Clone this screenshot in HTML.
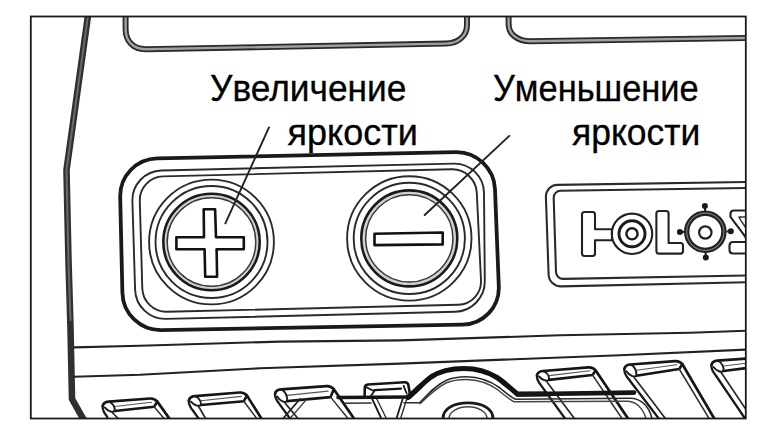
<!DOCTYPE html>
<html><head><meta charset="utf-8"><style>
html,body{margin:0;padding:0;background:#fff;}
body{width:774px;height:434px;position:relative;overflow:hidden;}
svg{position:absolute;left:0;top:0;}
.l{display:inline-block;transform:scaleY(1);transform-origin:0 29px;}
.l2{transform:scaleY(1);}
.t{position:absolute;font-family:"Liberation Sans",sans-serif;font-size:36px;color:#000;white-space:nowrap;line-height:1;transform-origin:0 29px;-webkit-text-stroke:0.3px #000;}
</style></head><body>
<svg width="774" height="434" viewBox="0 0 774 434">
<defs><clipPath id="cp"><rect x="30.8" y="16.5" width="715" height="402"/></clipPath></defs>
<g clip-path="url(#cp)">
<path d="M125.6,15 L125.6,29 C125.6,41 133,49.4 146,49.2 L446,43.6 C458,43.4 467,36 467,25 L467,15" fill="none" stroke="#2a2a2a" stroke-width="6.0" stroke-linejoin="round" stroke-linecap="round" />
<path d="M125.6,15 L125.6,29 C125.6,41 133,49.4 146,49.2 L446,43.6 C458,43.4 467,36 467,25 L467,15" fill="none" stroke="#a0a0a0" stroke-width="2.4" stroke-linejoin="round" stroke-linecap="round" />
<path d="M508.6,15 L508.6,24 C508.6,34 517,41.4 531,41.3 L748,37.9" fill="none" stroke="#2a2a2a" stroke-width="6.0" stroke-linejoin="round" stroke-linecap="round" />
<path d="M508.6,15 L508.6,24 C508.6,34 517,41.4 531,41.3 L748,37.9" fill="none" stroke="#a0a0a0" stroke-width="2.4" stroke-linejoin="round" stroke-linecap="round" />
<path d="M88.5,12 L66.5,170 L67,194 L68.5,261 L70.5,328 L72,399 L85,422" fill="none" stroke="#303030" stroke-width="6.6" stroke-linejoin="round" stroke-linecap="round" />
<path d="M88.5,12 L66.5,170 L67,194 L68.5,261 L70.5,320" fill="none" stroke="#6a6a6a" stroke-width="2.0" stroke-linejoin="round" stroke-linecap="round" />
<path d="M120.2,197.0 L120.2,197.0 C119.7,176.1 136.3,158.7 157.3,158.3 L455.5,152.2 C476.5,151.7 494.2,168.4 495.0,189.4 L498.8,286.1 C499.7,307.1 483.3,324.4 462.4,324.7 L161.3,330.1 C140.3,330.4 122.9,313.7 122.4,292.7 Z" fill="none" stroke="#1a1a1a" stroke-width="3.8" stroke-linejoin="round" stroke-linecap="round" />
<path d="M132.4,201.2 L132.4,201.2 C131.9,184.6 145.0,170.9 161.5,170.5 L453.7,163.6 C470.2,163.2 483.8,176.4 484.0,192.9 L484.8,281.1 C485.0,297.6 471.7,311.4 455.1,311.8 L166.0,318.9 C149.4,319.3 135.6,306.2 135.1,289.6 Z" fill="none" stroke="#2a2a2a" stroke-width="1.9" stroke-linejoin="round" stroke-linecap="round" />
<path d="M139.8,201.0 L139.8,201.0 C139.4,187.7 149.9,176.7 163.1,176.4 L451.7,169.3 C464.9,169.0 476.2,179.5 476.8,192.7 L481.0,280.3 C481.6,293.5 471.4,304.5 458.2,304.8 L167.0,311.8 C153.8,312.1 142.7,301.6 142.3,288.4 Z" fill="none" stroke="#2a2a2a" stroke-width="1.9" stroke-linejoin="round" stroke-linecap="round" />
<circle cx="211.5" cy="242" r="62.4" fill="none" stroke="#2a2a2a" stroke-width="1.9"/>
<circle cx="211.5" cy="242" r="56" fill="none" stroke="#2a2a2a" stroke-width="1.9"/>
<circle cx="211.5" cy="242" r="46.25" fill="none" stroke="#d0d0d0" stroke-width="3.9000000000000057"/>
<circle cx="211.5" cy="242" r="48.2" fill="none" stroke="#1a1a1a" stroke-width="2.6"/>
<circle cx="211.5" cy="242" r="44.3" fill="none" stroke="#3a3a3a" stroke-width="1.5"/>
<circle cx="409.3" cy="238.4" r="62.2" fill="none" stroke="#2a2a2a" stroke-width="1.9"/>
<circle cx="409.3" cy="238.4" r="55.6" fill="none" stroke="#2a2a2a" stroke-width="1.9"/>
<circle cx="409.3" cy="238.4" r="45.8" fill="none" stroke="#d0d0d0" stroke-width="4.399999999999999"/>
<circle cx="409.3" cy="238.4" r="48" fill="none" stroke="#1a1a1a" stroke-width="2.6"/>
<circle cx="409.3" cy="238.4" r="43.6" fill="none" stroke="#3a3a3a" stroke-width="1.5"/>
<path d="M203.7,209.3 L215.1,209.3 L216,237.3 L243.8,237.3 L243.8,249.3 L216.6,249.3 L217.1,276.8 L205.2,276.8 L204.6,249.3 L176.4,249.3 L176.4,237.3 L204,237.3 Z" fill="none" stroke="#111" stroke-width="2.6" stroke-linejoin="round" stroke-linecap="round" />
<path d="M374.5,233.8 L442.7,232.5 L442.7,244.4 L374.5,245.1 Z" fill="none" stroke="#111" stroke-width="2.6" stroke-linejoin="round" stroke-linecap="round" />
<path d="M269,127.4 L225.4,223.3" fill="none" stroke="#222" stroke-width="1.9" stroke-linejoin="round" stroke-linecap="round" />
<path d="M509.3,135.9 L424.7,215" fill="none" stroke="#222" stroke-width="1.9" stroke-linejoin="round" stroke-linecap="round" />
<path d="M545.9,197.1 L545.9,197.1 C545.7,190.5 550.8,185.0 557.5,184.9 L748.0,182.0 C754.6,181.9 760.0,187.1 760.0,193.8 L760.0,270.0 C760.0,276.6 754.6,282.1 748.0,282.2 L561.1,286.4 C554.4,286.5 548.9,281.3 548.6,274.7 Z" fill="none" stroke="#2a2a2a" stroke-width="2.1" stroke-linejoin="round" stroke-linecap="round" />
<path d="M553.7,197.9 L553.7,197.9 C553.6,194.0 556.7,190.8 560.5,190.8 L763.0,187.7 C766.9,187.7 770.0,190.8 770.0,194.6 L770.0,268.0 C770.0,271.9 766.9,275.1 763.0,275.2 L563.2,278.9 C559.4,279.0 556.1,275.9 556.0,272.1 Z" fill="none" stroke="#2a2a2a" stroke-width="2.1" stroke-linejoin="round" stroke-linecap="round" />
<path d="M584.5,212 L592.5,212 Q595,212 595,214.5 L595,229.2 L612,229.2 L612,240.2 L595,240.2 L595,253.5 Q595,256 592.5,256 L584.5,256 Q582,256 582,253.5 L582,214.5 Q582,212 584.5,212 Z" fill="none" stroke="#222" stroke-width="2.1" stroke-linejoin="round" stroke-linecap="round" />
<circle cx="632" cy="233.8" r="20.2" fill="none" stroke="#222" stroke-width="2.1"/>
<circle cx="632" cy="233.8" r="13" fill="none" stroke="#1a1a1a" stroke-width="2.9"/>
<circle cx="632" cy="233.8" r="5.6" fill="none" stroke="#1a1a1a" stroke-width="2.4"/>
<path d="M659,211 L666,211 Q668.6,211 668.6,213.5 L668.6,243 L680.5,243 Q683,243 683,245.5 L683,251 Q683,253.6 680.5,253.6 L659,253.6 Q656.4,253.6 656.4,251 L656.4,213.5 Q656.4,211 659,211 Z" fill="none" stroke="#222" stroke-width="2.1" stroke-linejoin="round" stroke-linecap="round" />
<circle cx="705.3" cy="231.8" r="18.6" fill="none" stroke="#222" stroke-width="5.4"/>
<circle cx="705.3" cy="231.8" r="18.6" fill="none" stroke="#777" stroke-width="1.2"/>
<circle cx="705.3" cy="232.5" r="6.2" fill="none" stroke="#222" stroke-width="2.2"/>
<circle cx="704.9" cy="206" r="3" fill="#1a1a1a"/>
<line x1="704.9" y1="206" x2="705.1" y2="211" stroke="#1a1a1a" stroke-width="2"/>
<circle cx="679.9" cy="232" r="3" fill="#1a1a1a"/>
<line x1="679.9" y1="232" x2="684" y2="232" stroke="#1a1a1a" stroke-width="2"/>
<circle cx="730.8" cy="231.3" r="3" fill="#1a1a1a"/>
<line x1="730.8" y1="231.3" x2="726.5" y2="231.5" stroke="#1a1a1a" stroke-width="2"/>
<circle cx="705.8" cy="257.5" r="3" fill="#1a1a1a"/>
<line x1="705.8" y1="257.5" x2="705.6" y2="252.5" stroke="#1a1a1a" stroke-width="2"/>
<path d="M746,210.5 L734,210.5 Q730.5,210.5 730.5,214 L730.5,217 C734,222 741,230 746,238" fill="none" stroke="#222" stroke-width="2.1" stroke-linejoin="round" stroke-linecap="round" />
<path d="M746,217 L739,217 C741,221 744,225 746,228" fill="none" stroke="#333" stroke-width="1.6" stroke-linejoin="round" stroke-linecap="round" />
<path d="M746,242 L733,242 Q729.5,242 729.5,245.5 L729.5,250 Q729.5,253.5 733,253.5 L746,253.5" fill="none" stroke="#222" stroke-width="2.1" stroke-linejoin="round" stroke-linecap="round" />
<path d="M74,347.4 L140,345.8 L280,341.6 L400,340.4 L560,335.3 L690,332.7 L746,330.75" fill="none" stroke="#222" stroke-width="2.1" stroke-linejoin="round" stroke-linecap="round" />
<path d="M74,376.8 L140,374.8 L260,368.3 L400,363.6 L620,355.2 L746,349.6" fill="none" stroke="#222" stroke-width="2.1" stroke-linejoin="round" stroke-linecap="round" />
<path d="M102.7,406.0 C103.2,403.0 105.7,402.0 108.7,401.7 L150.1,398.5 C153.1,398.3 155.6,399.5 157.3,401.6 L169.4,418.5" fill="none" stroke="#151515" stroke-width="2.7" stroke-linejoin="round" stroke-linecap="round" />
<path d="M102.7,406.0 C102.2,410.0 104.2,413.0 106.7,416.0 L107.8,418.5" fill="none" stroke="#1a1a1a" stroke-width="2.3" stroke-linejoin="round" stroke-linecap="round" />
<path d="M112.7,413.0 L118.3,418.5" fill="none" stroke="#2a2a2a" stroke-width="1.7" stroke-linejoin="round" stroke-linecap="round" />
<path d="M114.7,411.0 L154.1,406.7 L157.3,401.6" fill="none" stroke="#151515" stroke-width="2.6" stroke-linejoin="round" stroke-linecap="round" />
<path d="M114.7,406.5 L151.6,402.2" fill="none" stroke="#555" stroke-width="1.1" stroke-linejoin="round" stroke-linecap="round" />
<path d="M108.7,401.7 C112.7,403.0 115.2,406.9 114.7,411.0 C112.7,413.0 107.7,411.0 104.7,407.4" fill="none" stroke="#1a1a1a" stroke-width="1.9" stroke-linejoin="round" stroke-linecap="round" />
<path d="M154.1,406.7 L164.0,418.5" fill="none" stroke="#333" stroke-width="1.5" stroke-linejoin="round" stroke-linecap="round" />
<path d="M188.9,400.5 C189.4,397.5 191.9,396.5 194.9,396.2 L239.8,392.5 C242.8,392.3 245.3,393.5 247.0,395.6 L261.4,418.5" fill="none" stroke="#151515" stroke-width="2.7" stroke-linejoin="round" stroke-linecap="round" />
<path d="M188.9,400.5 C188.4,404.5 190.4,407.5 192.9,410.5 L198.6,418.5" fill="none" stroke="#1a1a1a" stroke-width="2.3" stroke-linejoin="round" stroke-linecap="round" />
<path d="M198.9,407.0 L205.6,418.5" fill="none" stroke="#2a2a2a" stroke-width="1.7" stroke-linejoin="round" stroke-linecap="round" />
<path d="M200.9,405.0 L243.8,401.2 L247.0,395.6" fill="none" stroke="#151515" stroke-width="2.6" stroke-linejoin="round" stroke-linecap="round" />
<path d="M200.9,400.8 L241.3,396.4" fill="none" stroke="#555" stroke-width="1.1" stroke-linejoin="round" stroke-linecap="round" />
<path d="M194.9,396.2 C198.9,397.5 201.4,401.2 200.9,405.0 C198.9,407.0 193.9,405.0 190.9,401.6" fill="none" stroke="#1a1a1a" stroke-width="1.9" stroke-linejoin="round" stroke-linecap="round" />
<path d="M243.8,401.2 L256.7,418.5" fill="none" stroke="#333" stroke-width="1.5" stroke-linejoin="round" stroke-linecap="round" />
<path d="M275.1,393.6 C275.6,390.6 278.1,389.6 281.1,389.3 L326.6,386.1 C329.6,385.9 332.1,387.1 333.8,389.2 L354.0,418.5" fill="none" stroke="#151515" stroke-width="2.7" stroke-linejoin="round" stroke-linecap="round" />
<path d="M275.1,393.6 C274.6,397.6 276.6,400.6 279.1,403.6 L290.0,418.5" fill="none" stroke="#1a1a1a" stroke-width="2.3" stroke-linejoin="round" stroke-linecap="round" />
<path d="M285.1,403.1 L298.0,418.5" fill="none" stroke="#2a2a2a" stroke-width="1.7" stroke-linejoin="round" stroke-linecap="round" />
<path d="M287.1,401.1 L330.6,397.1 L333.8,389.2" fill="none" stroke="#151515" stroke-width="2.6" stroke-linejoin="round" stroke-linecap="round" />
<path d="M287.1,395.4 L328.1,391.1" fill="none" stroke="#555" stroke-width="1.1" stroke-linejoin="round" stroke-linecap="round" />
<path d="M281.1,389.3 C285.1,390.6 287.6,395.9 287.1,401.1 C285.1,403.1 280.1,401.1 277.1,396.5" fill="none" stroke="#1a1a1a" stroke-width="1.9" stroke-linejoin="round" stroke-linecap="round" />
<path d="M330.6,397.1 L348.0,418.5" fill="none" stroke="#333" stroke-width="1.5" stroke-linejoin="round" stroke-linecap="round" />
<path d="M537.0,375.3 C537.5,372.3 540.0,371.3 543.0,371.0 L588.5,367.4 C591.5,367.2 594.0,368.4 595.7,370.5 L628.0,418.5" fill="none" stroke="#151515" stroke-width="2.7" stroke-linejoin="round" stroke-linecap="round" />
<path d="M537.0,375.3 C536.5,379.3 538.5,382.3 541.0,385.3 L565.0,418.5" fill="none" stroke="#1a1a1a" stroke-width="2.3" stroke-linejoin="round" stroke-linecap="round" />
<path d="M547.0,381.9 L574.4,418.5" fill="none" stroke="#2a2a2a" stroke-width="1.7" stroke-linejoin="round" stroke-linecap="round" />
<path d="M549.0,379.9 L592.5,375.0 L595.7,370.5" fill="none" stroke="#151515" stroke-width="2.6" stroke-linejoin="round" stroke-linecap="round" />
<path d="M549.0,375.6 L590.0,370.8" fill="none" stroke="#555" stroke-width="1.1" stroke-linejoin="round" stroke-linecap="round" />
<path d="M543.0,371.0 C547.0,372.3 549.5,376.0 549.0,379.9 C547.0,381.9 542.0,379.9 539.0,376.5" fill="none" stroke="#1a1a1a" stroke-width="1.9" stroke-linejoin="round" stroke-linecap="round" />
<path d="M592.5,375.0 L622.0,418.5" fill="none" stroke="#333" stroke-width="1.5" stroke-linejoin="round" stroke-linecap="round" />
<path d="M624.4,368.8 C624.9,365.8 627.4,364.8 630.4,364.5 L675.2,361.2 C678.2,361.0 680.7,362.2 682.4,364.3 L714.2,418.5" fill="none" stroke="#151515" stroke-width="2.7" stroke-linejoin="round" stroke-linecap="round" />
<path d="M624.4,368.8 C623.9,372.8 625.9,375.8 628.4,378.8 L658.7,418.5" fill="none" stroke="#1a1a1a" stroke-width="2.3" stroke-linejoin="round" stroke-linecap="round" />
<path d="M634.4,377.7 L665.4,418.5" fill="none" stroke="#2a2a2a" stroke-width="1.7" stroke-linejoin="round" stroke-linecap="round" />
<path d="M636.4,375.7 L679.2,369.0 L682.4,364.3" fill="none" stroke="#151515" stroke-width="2.6" stroke-linejoin="round" stroke-linecap="round" />
<path d="M636.4,370.2 L676.7,364.7" fill="none" stroke="#555" stroke-width="1.1" stroke-linejoin="round" stroke-linecap="round" />
<path d="M630.4,364.5 C634.4,365.8 636.9,370.8 636.4,375.7 C634.4,377.7 629.4,375.7 626.4,371.3" fill="none" stroke="#1a1a1a" stroke-width="1.9" stroke-linejoin="round" stroke-linecap="round" />
<path d="M679.2,369.0 L709.1,418.5" fill="none" stroke="#333" stroke-width="1.5" stroke-linejoin="round" stroke-linecap="round" />
<path d="M711.5,365.0 C712.0,362.0 714.5,361.0 717.5,360.7 L767.0,357.0 C770.0,356.8 772.5,358.0 774.2,360.1 L800.0,418.5" fill="none" stroke="#151515" stroke-width="2.7" stroke-linejoin="round" stroke-linecap="round" />
<path d="M711.5,365.0 C711.0,369.0 713.0,372.0 715.5,375.0 L745.0,418.5" fill="none" stroke="#1a1a1a" stroke-width="2.3" stroke-linejoin="round" stroke-linecap="round" />
<path d="M721.5,373.0 L752.0,418.5" fill="none" stroke="#2a2a2a" stroke-width="1.7" stroke-linejoin="round" stroke-linecap="round" />
<path d="M723.5,371.0 L771.0,365.0 L774.2,360.1" fill="none" stroke="#151515" stroke-width="2.6" stroke-linejoin="round" stroke-linecap="round" />
<path d="M723.5,366.0 L768.5,360.6" fill="none" stroke="#555" stroke-width="1.1" stroke-linejoin="round" stroke-linecap="round" />
<path d="M717.5,360.7 C721.5,362.0 724.0,366.5 723.5,371.0 C721.5,373.0 716.5,371.0 713.5,367.0" fill="none" stroke="#1a1a1a" stroke-width="1.9" stroke-linejoin="round" stroke-linecap="round" />
<path d="M771.0,365.0 L795.0,418.5" fill="none" stroke="#333" stroke-width="1.5" stroke-linejoin="round" stroke-linecap="round" />
<path d="M364.6,396 L364.8,387.5 Q365,384.8 368,384.5 L404.5,382.2 Q407.8,382 408.4,385 L410.2,396" fill="none" stroke="#151515" stroke-width="2.6" stroke-linejoin="round" stroke-linecap="round" />
<path d="M366.1,387.1 L374.3,391.2 L371.2,395.5" fill="none" stroke="#1a1a1a" stroke-width="1.8" stroke-linejoin="round" stroke-linecap="round" />
<path d="M403.6,385.8 L406.7,393.5" fill="none" stroke="#1a1a1a" stroke-width="1.8" stroke-linejoin="round" stroke-linecap="round" />
<path d="M374.3,390.2 L401,388.6" fill="none" stroke="#151515" stroke-width="2.2" stroke-linejoin="round" stroke-linecap="round" />
<path d="M372.2,399 L381.3,418.5" fill="none" stroke="#1a1a1a" stroke-width="1.8" stroke-linejoin="round" stroke-linecap="round" />
<path d="M376.8,399 L386.4,418.5" fill="none" stroke="#333" stroke-width="1.4" stroke-linejoin="round" stroke-linecap="round" />
<path d="M402.6,399 L396.5,418.5" fill="none" stroke="#1a1a1a" stroke-width="1.8" stroke-linejoin="round" stroke-linecap="round" />
<path d="M406.7,399 L400.6,418.5" fill="none" stroke="#333" stroke-width="1.4" stroke-linejoin="round" stroke-linecap="round" />
<path d="M300,399 L283,418.5" fill="none" stroke="#222" stroke-width="1.8" stroke-linejoin="round" stroke-linecap="round" />
<path d="M306,400 L290,418.5" fill="none" stroke="#444" stroke-width="1.3" stroke-linejoin="round" stroke-linecap="round" />
<path d="M338,397.5 L410,397" fill="none" stroke="#151515" stroke-width="3.6" stroke-linejoin="round" stroke-linecap="round" />
<path d="M345,403.2 L371,403" fill="none" stroke="#333" stroke-width="1.6" stroke-linejoin="round" stroke-linecap="round" />
<path d="M408,397.5 C417,390 424,382 431,377 C440,371 452,368.5 464,368.5 C478,368.5 488,372 497,377.5 C505,383 511,389 517.7,394.2 L546,394" fill="none" stroke="#111" stroke-width="5.2" stroke-linejoin="round" stroke-linecap="round" />
<path d="M404,402.8 L420,402.6 C428,394 436,385 446,380.5 C454,377 460,376.8 466,376.8 C480,377 492,382 500,388 C506,393 510,397 515.6,399.3 L630,398.3 C641,398.3 649,406 652,418.5" fill="none" stroke="#2a2a2a" stroke-width="1.6" stroke-linejoin="round" stroke-linecap="round" />
<path d="M420,403.8 C428,396 436,388 446,383 C454,379.5 460,379.5 466,379.5 C480,379.8 490,384 498,390 C504,395 509,399 514,401.8 L627,401.2 C636,401.2 643,408 646,418.5" fill="none" stroke="#444" stroke-width="1.4" stroke-linejoin="round" stroke-linecap="round" />
<path d="M517,394.3 L634,392.6" fill="none" stroke="#151515" stroke-width="4.6" stroke-linejoin="round" stroke-linecap="round" />
<path d="M443,418.5 C443,408 455,402.8 468,402.8 C481,402.8 493,408 493,418.5" fill="none" stroke="#1a1a1a" stroke-width="2.8" stroke-linejoin="round" stroke-linecap="round" />
<path d="M449,418.5 C449,411 459,406.8 468,406.8 C477,406.8 487,411 487,418.5" fill="none" stroke="#444" stroke-width="1.4" stroke-linejoin="round" stroke-linecap="round" />
</g>
<rect x="30.8" y="16.5" width="715" height="402" fill="none" stroke="#1a1a1a" stroke-width="1.8"/>
</svg>
<div class="t" style="left:210px;top:71px;transform:scaleX(0.98)">У<span class="l">величение</span></div>
<div class="t" style="left:287.5px;top:115px"><span class="l l2">яркости</span></div>
<div class="t" style="left:493px;top:71px;transform:scaleX(0.956)">У<span class="l">меньшение</span></div>
<div class="t" style="left:572px;top:115px;transform:scaleX(0.985)"><span class="l l2">яркости</span></div>
</body></html>
